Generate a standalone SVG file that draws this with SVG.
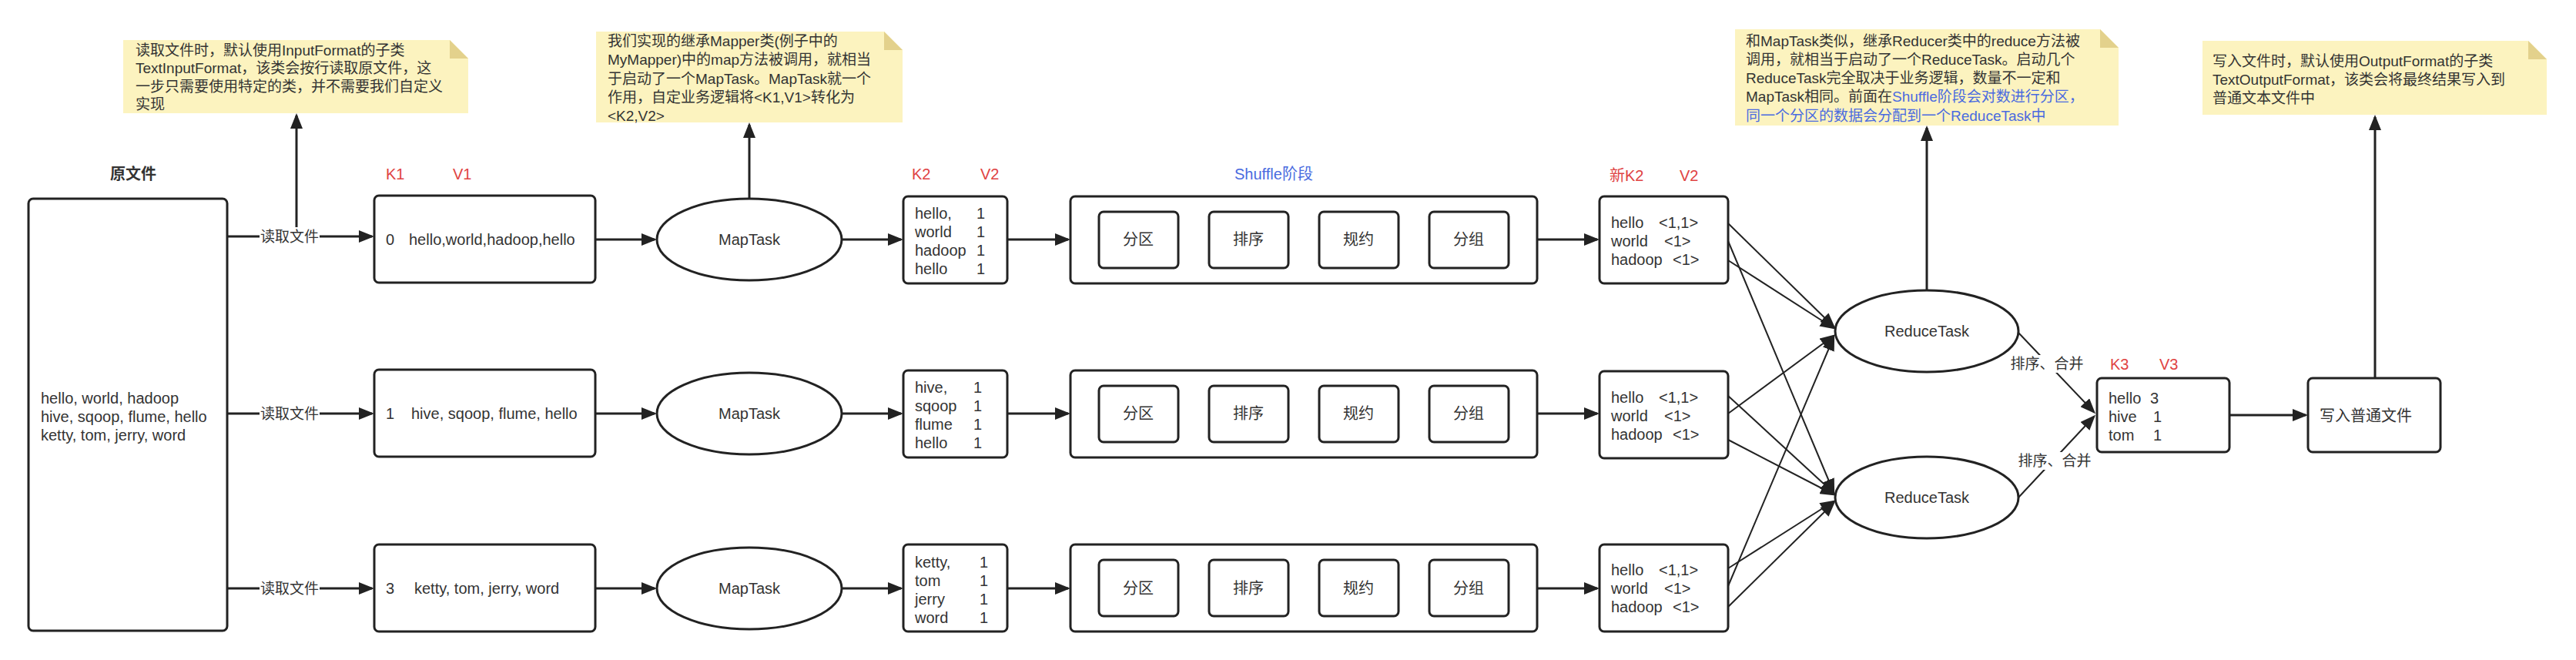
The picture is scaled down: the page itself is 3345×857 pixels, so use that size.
<svg xmlns="http://www.w3.org/2000/svg" width="3345" height="857" viewBox="0 0 3345 857">
<defs>
<style>
text{font-family:"Liberation Sans","Noto Sans CJK SC",sans-serif;font-size:20px;fill:#333;dominant-baseline:central}
.note text{font-size:19px}
.lbl{font-size:19px}
.red{fill:#e04343;font-size:20px}
.blue{fill:#4a6be0}
.box{fill:#fff;stroke:#222;stroke-width:3}
.notebg{fill:#fcf3bf;stroke:none}
.fold{fill:#e3d18c;stroke:none}
.c{fill:none;stroke:#222;stroke-width:3;marker-end:url(#arr)}
.t{fill:none;stroke:#222;stroke-width:2;marker-end:url(#arr)}
.lbg{fill:#fff;stroke:none}
.mid{text-anchor:middle}
</style>
<marker id="arr" markerUnits="userSpaceOnUse" markerWidth="20" markerHeight="16" refX="17" refY="8" orient="auto"><path d="M0,0 L20,8 L0,16 Z" fill="#222"/></marker>
</defs>
<rect width="3345" height="857" fill="#fff"/>

<g id="note1" class="note">
<path class="notebg" d="M160,52 H584 L608,76 V147 H160 Z"/>
<path class="fold" d="M584,52 V76 H608 Z"/>
<text x="176" y="65">读取文件时，默认使用InputFormat的子类</text>
<text x="176" y="88">TextInputFormat，该类会按行读取原文件，这</text>
<text x="176" y="112">一步只需要使用特定的类，并不需要我们自定义</text>
<text x="176" y="135">实现</text>
</g>
<g id="note2" class="note">
<path class="notebg" d="M774,41 H1148 L1172,65 V159 H774 Z"/>
<path class="fold" d="M1148,41 V65 H1172 Z"/>
<text x="789" y="53">我们实现的继承Mapper类(例子中的</text>
<text x="789" y="77">MyMapper)中的map方法被调用，就相当</text>
<text x="789" y="102">于启动了一个MapTask。MapTask就一个</text>
<text x="789" y="126">作用，自定业务逻辑将&lt;K1,V1&gt;转化为</text>
<text x="789" y="150">&lt;K2,V2&gt;</text>
</g>
<g id="note3" class="note">
<path class="notebg" d="M2253,38 H2727 L2751,62 V163 H2253 Z"/>
<path class="fold" d="M2727,38 V62 H2751 Z"/>
<text x="2267" y="53">和MapTask类似，继承Reducer类中的reduce方法被</text>
<text x="2267" y="77">调用，就相当于启动了一个ReduceTask。启动几个</text>
<text x="2267" y="101">ReduceTask完全取决于业务逻辑，数量不一定和</text>
<text x="2267" y="125">MapTask相同。前面在<tspan class="blue">Shuffle阶段会对数进行分区，</tspan></text>
<text x="2267" y="150" class="blue">同一个分区的数据会分配到一个ReduceTask中</text>
</g>
<g id="note4" class="note">
<path class="notebg" d="M2860,53 H3283 L3307,77 V149 H2860 Z"/>
<path class="fold" d="M3283,53 V77 H3307 Z"/>
<text x="2873" y="79">写入文件时，默认使用OutputFormat的子类</text>
<text x="2873" y="103">TextOutputFormat，该类会将最终结果写入到</text>
<text x="2873" y="127">普通文本文件中</text>
</g>

<g id="headers">
<text x="173" y="226" class="mid" font-weight="bold">原文件</text>
<text x="501" y="226" class="red">K1</text>
<text x="588" y="226" class="red">V1</text>
<text x="1184" y="226" class="red">K2</text>
<text x="1273" y="226" class="red">V2</text>
<text x="1603" y="226" class="blue">Shuffle阶段</text>
<text x="2090" y="228" class="red">新K2</text>
<text x="2181" y="228" class="red">V2</text>
<text x="2740" y="473" class="red">K3</text>
<text x="2804" y="473" class="red">V3</text>
</g>

<g id="source">
<rect class="box" x="37" y="258" width="258" height="561" rx="6"/>
<text x="53" y="517">hello, world, hadoop</text>
<text x="53" y="541">hive, sqoop, flume, hello</text>
<text x="53" y="565">ketty, tom, jerry, word</text>
</g>

<g id="kv1-1"><rect class="box" x="486" y="254" width="287" height="113" rx="6"/><text x="501" y="311">0</text><text x="531" y="311">hello,world,hadoop,hello</text></g>
<g id="kv1-2"><rect class="box" x="486" y="480" width="287" height="113" rx="6"/><text x="501" y="537">1</text><text x="534" y="537">hive, sqoop, flume, hello</text></g>
<g id="kv1-3"><rect class="box" x="486" y="707" width="287" height="113" rx="6"/><text x="501" y="764">3</text><text x="538" y="764">ketty, tom, jerry, word</text></g>

<g id="map1"><ellipse class="box" cx="973" cy="311" rx="120" ry="53"/><text x="973" y="311" class="mid">MapTask</text></g>
<g id="map2"><ellipse class="box" cx="973" cy="537" rx="120" ry="53"/><text x="973" y="537" class="mid">MapTask</text></g>
<g id="map3"><ellipse class="box" cx="973" cy="764" rx="120" ry="53"/><text x="973" y="764" class="mid">MapTask</text></g>

<g id="kv2-1"><rect class="box" x="1173" y="255" width="135" height="113" rx="6"/>
<text x="1188" y="277">hello,</text><text x="1268" y="277">1</text>
<text x="1188" y="301">world</text><text x="1268" y="301">1</text>
<text x="1188" y="325">hadoop</text><text x="1268" y="325">1</text>
<text x="1188" y="349">hello</text><text x="1268" y="349">1</text></g>
<g id="kv2-2"><rect class="box" x="1173" y="481" width="135" height="113" rx="6"/>
<text x="1188" y="503">hive,</text><text x="1264" y="503">1</text>
<text x="1188" y="527">sqoop</text><text x="1264" y="527">1</text>
<text x="1188" y="551">flume</text><text x="1264" y="551">1</text>
<text x="1188" y="575">hello</text><text x="1264" y="575">1</text></g>
<g id="kv2-3"><rect class="box" x="1173" y="707" width="135" height="113" rx="6"/>
<text x="1188" y="730">ketty,</text><text x="1272" y="730">1</text>
<text x="1188" y="754">tom</text><text x="1272" y="754">1</text>
<text x="1188" y="778">jerry</text><text x="1272" y="778">1</text>
<text x="1188" y="802">word</text><text x="1272" y="802">1</text></g>

<g id="shuffle1"><rect class="box" x="1390" y="255" width="606" height="113" rx="6"/>
<rect class="box" x="1427" y="275" width="103" height="73" rx="6"/><text x="1478" y="311" class="mid">分区</text>
<rect class="box" x="1570" y="275" width="103" height="73" rx="6"/><text x="1621" y="311" class="mid">排序</text>
<rect class="box" x="1713" y="275" width="103" height="73" rx="6"/><text x="1764" y="311" class="mid">规约</text>
<rect class="box" x="1856" y="275" width="103" height="73" rx="6"/><text x="1907" y="311" class="mid">分组</text></g>
<g id="shuffle2"><rect class="box" x="1390" y="481" width="606" height="113" rx="6"/>
<rect class="box" x="1427" y="501" width="103" height="73" rx="6"/><text x="1478" y="537" class="mid">分区</text>
<rect class="box" x="1570" y="501" width="103" height="73" rx="6"/><text x="1621" y="537" class="mid">排序</text>
<rect class="box" x="1713" y="501" width="103" height="73" rx="6"/><text x="1764" y="537" class="mid">规约</text>
<rect class="box" x="1856" y="501" width="103" height="73" rx="6"/><text x="1907" y="537" class="mid">分组</text></g>
<g id="shuffle3"><rect class="box" x="1390" y="707" width="606" height="113" rx="6"/>
<rect class="box" x="1427" y="727" width="103" height="73" rx="6"/><text x="1478" y="764" class="mid">分区</text>
<rect class="box" x="1570" y="727" width="103" height="73" rx="6"/><text x="1621" y="764" class="mid">排序</text>
<rect class="box" x="1713" y="727" width="103" height="73" rx="6"/><text x="1764" y="764" class="mid">规约</text>
<rect class="box" x="1856" y="727" width="103" height="73" rx="6"/><text x="1907" y="764" class="mid">分组</text></g>

<g id="newkv2-1"><rect class="box" x="2077" y="255" width="167" height="113" rx="6"/>
<text x="2092" y="289">hello</text><text x="2154" y="289">&lt;1,1&gt;</text>
<text x="2092" y="313">world</text><text x="2161" y="313">&lt;1&gt;</text>
<text x="2092" y="337">hadoop</text><text x="2172" y="337">&lt;1&gt;</text></g>
<g id="newkv2-2"><rect class="box" x="2077" y="482" width="167" height="113" rx="6"/>
<text x="2092" y="516">hello</text><text x="2154" y="516">&lt;1,1&gt;</text>
<text x="2092" y="540">world</text><text x="2161" y="540">&lt;1&gt;</text>
<text x="2092" y="564">hadoop</text><text x="2172" y="564">&lt;1&gt;</text></g>
<g id="newkv2-3"><rect class="box" x="2077" y="707" width="167" height="113" rx="6"/>
<text x="2092" y="740">hello</text><text x="2154" y="740">&lt;1,1&gt;</text>
<text x="2092" y="764">world</text><text x="2161" y="764">&lt;1&gt;</text>
<text x="2092" y="788">hadoop</text><text x="2172" y="788">&lt;1&gt;</text></g>

<g id="reduce1"><ellipse class="box" cx="2502" cy="430" rx="119" ry="53"/><text x="2502" y="430" class="mid">ReduceTask</text></g>
<g id="reduce2"><ellipse class="box" cx="2502" cy="646" rx="119" ry="53"/><text x="2502" y="646" class="mid">ReduceTask</text></g>

<g id="kv3"><rect class="box" x="2723" y="491" width="172" height="96" rx="6"/>
<text x="2738" y="517">hello</text><text x="2792" y="517">3</text>
<text x="2738" y="541">hive</text><text x="2796" y="541">1</text>
<text x="2738" y="565">tom</text><text x="2796" y="565">1</text></g>

<g id="output"><rect class="box" x="2997" y="491" width="172" height="96" rx="6"/><text x="3012" y="540">写入普通文件</text></g>

<g id="connectors">
<path class="c" d="M295,307 H483"/>
<path class="c" d="M295,537 H483"/>
<path class="c" d="M295,764 H483"/>
<path class="c" d="M385,307 V150"/>
<path class="c" d="M773,311 H850"/>
<path class="c" d="M773,537 H850"/>
<path class="c" d="M773,764 H850"/>
<path class="c" d="M973,258 V162"/>
<path class="c" d="M1093,311 H1170"/>
<path class="c" d="M1093,537 H1170"/>
<path class="c" d="M1093,764 H1170"/>
<path class="c" d="M1308,311 H1387"/>
<path class="c" d="M1308,537 H1387"/>
<path class="c" d="M1308,764 H1387"/>
<path class="c" d="M1996,311 H2074"/>
<path class="c" d="M1996,537 H2074"/>
<path class="c" d="M1996,764 H2074"/>
<path class="t" d="M2244,290 L2381,424"/>
<path class="t" d="M2244,313 L2381,639"/>
<path class="t" d="M2244,338 L2381,426"/>
<path class="t" d="M2244,514 L2381,640"/>
<path class="t" d="M2244,537 L2381,436"/>
<path class="t" d="M2244,571 L2381,642"/>
<path class="t" d="M2244,738 L2381,651"/>
<path class="t" d="M2244,761 L2381,438"/>
<path class="t" d="M2244,788 L2381,653"/>
<path class="c" d="M2502,377 V166"/>
<path class="t" d="M2621,432 L2719,535"/>
<path class="t" d="M2621,646 L2719,541"/>
<path class="c" d="M2895,539 H2994"/>
<path class="c" d="M3084,491 V152"/>
<rect class="lbg" x="337" y="295" width="78" height="24"/><text x="376" y="307" class="lbl mid">读取文件</text>
<rect class="lbg" x="337" y="525" width="78" height="24"/><text x="376" y="537" class="lbl mid">读取文件</text>
<rect class="lbg" x="337" y="752" width="78" height="24"/><text x="376" y="764" class="lbl mid">读取文件</text>
<rect class="lbg" x="2609" y="461" width="99" height="23"/><text x="2658" y="472" class="lbl mid">排序、合并</text>
<rect class="lbg" x="2619" y="587" width="99" height="23"/><text x="2668" y="598" class="lbl mid">排序、合并</text>
</g>
</svg>
